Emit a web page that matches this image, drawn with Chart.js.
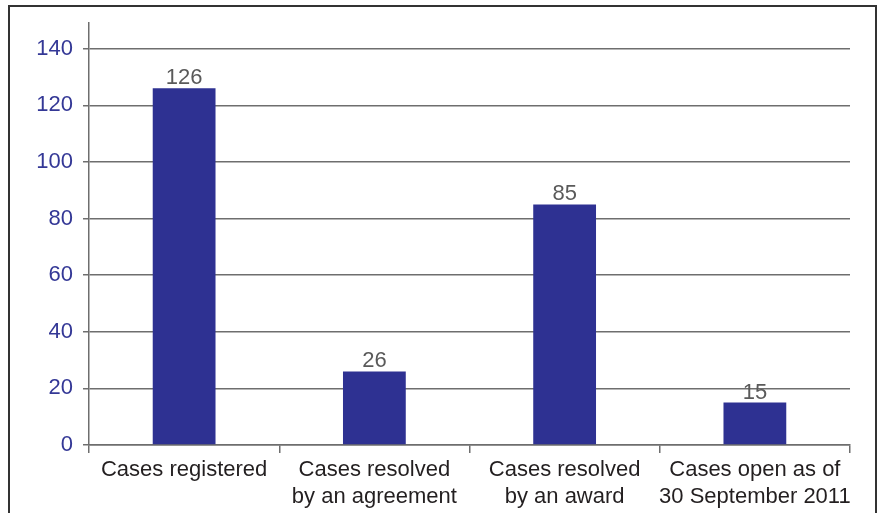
<!DOCTYPE html>
<html>
<head>
<meta charset="utf-8">
<script src="https://cdn.jsdelivr.net/npm/chart.js@4"></script>
<style>
  html, body { margin: 0; padding: 0; background: #ffffff; }
  #wrap { position: relative; width: 878px; height: 513px; overflow: hidden; }
  #frame {
    position: absolute; left: 8px; top: 5px; width: 869px; height: 560px;
    border: 2px solid #333333; box-sizing: border-box; pointer-events: none;
  }
  canvas { position: absolute; left: 0; top: 0; }
</style>
</head>
<body>
<div id="wrap">
  <canvas id="chart" width="878" height="513"></canvas>
  <div id="frame"></div>
</div>
<script>
// Case statistics
const categories = [
  ["Cases registered"],
  ["Cases resolved", "by an agreement"],
  ["Cases resolved", "by an award"],
  ["Cases open as of", "30 September 2011"]
];
const caseCounts = [126, 26, 85, 15];
const yTicks = [0, 20, 40, 60, 80, 100, 120, 140];

const FONT = "'Liberation Sans', Arial, sans-serif";
const BAR_BLUE = "#2E3192";
const LINE_GREY = "#6e6e6e";

// Draws each bar's value just above it
const valueLabels = {
  id: "valueLabels",
  afterDatasetsDraw(chart) {
    const ctx = chart.ctx;
    const meta = chart.getDatasetMeta(0);
    ctx.save();
    ctx.font = "22px " + FONT;
    ctx.fillStyle = "#5a5a5a";
    ctx.textAlign = "center";
    ctx.textBaseline = "alphabetic";
    meta.data.forEach((bar, i) => {
      ctx.fillText(String(caseCounts[i]), bar.x, bar.y - 4);
    });
    ctx.restore();
  }
};

new Chart(document.getElementById("chart"), {
  type: "bar",
  data: {
    labels: categories,
    datasets: [{
      data: caseCounts,
      backgroundColor: BAR_BLUE,
      borderWidth: 0,
      categoryPercentage: 1,
      barPercentage: 0.33
    }]
  },
  options: {
    responsive: false,
    animation: false,
    layout: { padding: { top: 18, right: 28, left: 0, bottom: 0 } },
    plugins: { legend: { display: false }, tooltip: { enabled: false } },
    scales: {
      x: {
        offset: true,
        grid: {
          offset: true,
          drawOnChartArea: false,
          drawTicks: true,
          tickLength: 8,
          color: LINE_GREY,
          lineWidth: 1.5
        },
        border: { display: true, color: LINE_GREY, width: 1.5 },
        ticks: {
          color: "#231F20",
          font: { family: FONT, size: 22, lineHeight: 1.2 },
          padding: 4,
          maxRotation: 0,
          autoSkip: false
        },
        afterFit(scale) { scale.height = 68; }
      },
      y: {
        min: 0,
        max: 149,
        afterBuildTicks(scale) {
          scale.ticks = yTicks.map(v => ({ value: v }));
        },
        grid: {
          color: LINE_GREY,
          lineWidth: 1.5,
          tickLength: 6
        },
        border: { display: true, color: LINE_GREY, width: 1.5 },
        ticks: {
          color: "#343896",
          font: { family: FONT, size: 22 },
          padding: 10
        },
        afterFit(scale) { scale.width = 89; }
      }
    }
  },
  plugins: [valueLabels]
});
</script>
</body>
</html>
